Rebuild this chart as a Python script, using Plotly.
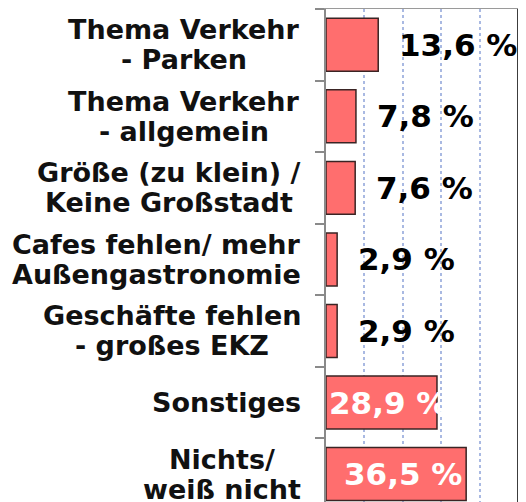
import plotly.graph_objects as go

categories = [
    "Thema Verkehr<br>- Parken",
    "Thema Verkehr<br>- allgemein",
    "Größe (zu klein) /<br>Keine Großstadt",
    "Cafes fehlen/ mehr<br>Außengastronomie",
    "Geschäfte fehlen<br>- großes EKZ",
    "Sonstiges",
    "Nichts/<br>weiß nicht",
]
values = [13.6, 7.8, 7.6, 2.9, 2.9, 28.9, 36.5]
inside_threshold = 20  # values above this get the label inside the bar (white)

bar_color = "#FF6E6E"
font_family = "DejaVu Sans"
label_size = 27
label_line_gap = 30  # px between the two lines of a category label

# approximate advance widths (em) of DejaVu Sans Bold, used only to centre label lines
_W = {
    " ": 0.348, "/": 0.365, "(": 0.457, ")": 0.457, "-": 0.415, ",": 0.38, "%": 1.002,
    "A": 0.774, "C": 0.734, "E": 0.683, "G": 0.821, "K": 0.775, "N": 0.837, "P": 0.733,
    "S": 0.720, "T": 0.682, "V": 0.774, "Z": 0.725,
    "a": 0.675, "b": 0.716, "c": 0.593, "d": 0.716, "e": 0.678, "f": 0.435, "g": 0.716,
    "h": 0.712, "i": 0.343, "k": 0.665, "l": 0.343, "m": 1.042, "n": 0.712, "o": 0.687,
    "r": 0.493, "s": 0.595, "t": 0.478, "u": 0.712, "w": 0.924, "z": 0.582,
    "ä": 0.675, "ö": 0.687, "ß": 0.710,
}


def text_width(s, size):
    return sum(_W.get(ch, 0.68) for ch in s) * size


fig = go.Figure()
fig.add_trace(go.Bar(
    y=categories,
    x=values,
    orientation="h",
    width=0.74,
    marker=dict(color=bar_color, line=dict(color="#3a2424", width=1.5)),
    hoverinfo="skip",
))

annotations = []
for cat, v in zip(categories, values):
    # category label: block right-aligned next to the axis, lines centred
    lines = cat.split("<br>")
    n = len(lines)
    block_w = max(text_width(s, label_size) for s in lines)
    for i, line in enumerate(lines):
        offset = ((n - 1) / 2 - i) * label_line_gap
        annotations.append(dict(
            x=0, y=cat, xref="paper", yref="y", text=line, showarrow=False,
            xanchor="center", yanchor="middle", xshift=-(25 + block_w / 2),
            yshift=offset,
            font=dict(family=font_family, size=label_size, color="#111", weight="bold"),
        ))
    txt = f"{v:.1f}".replace(".", ",") + " %"
    if v > inside_threshold:
        annotations.append(dict(
            x=v / 2, y=cat, xref="x", yref="y", text=txt, showarrow=False,
            xanchor="center", yanchor="middle", xshift=7,
            font=dict(family=font_family, size=31, color="white", weight="bold"),
        ))
    else:
        annotations.append(dict(
            x=v, y=cat, xref="x", yref="y", text=txt, showarrow=False,
            xanchor="left", yanchor="middle", xshift=19,
            font=dict(family=font_family, size=31, color="black", weight="bold"),
        ))

fig.update_layout(
    width=518, height=494,
    margin=dict(l=318, r=8, t=1, b=0),
    paper_bgcolor="white", plot_bgcolor="white",
    showlegend=False,
    font=dict(family=font_family, size=25, color="black", weight="bold"),
    annotations=annotations,
    shapes=[
        dict(type="line", xref="paper", yref="paper", x0=1, x1=1, y0=0, y1=1,
             line=dict(color="#3c3c3c", width=2)),
    ],
)
fig.update_xaxes(
    range=[0, 50], dtick=10, showticklabels=False, ticks="",
    showgrid=True, gridcolor="#a9b9e2", griddash="dot", gridwidth=2,
    zeroline=False, side="top", showline=True, linecolor="#9a9a9a", linewidth=1.5,
    fixedrange=True, automargin=False,
)
fig.update_yaxes(
    range=[6.39, -0.5], showgrid=False, zeroline=False,
    showline=True, linecolor="#8a8a8a", linewidth=1.5,
    showticklabels=False, automargin=False,
    ticks="outside", tickson="boundaries", ticklen=9, tickcolor="#8a8a8a", tickwidth=1.5,
    fixedrange=True,
)

fig.write_html("out.html")
